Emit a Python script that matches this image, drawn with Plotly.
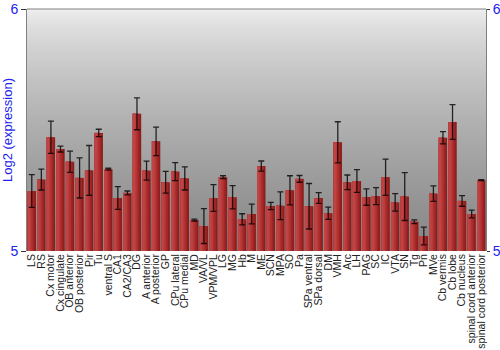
import plotly.graph_objects as go

regions = ["LS", "RS", "Cx motor", "Cx cingulate", "OB anterior", "OB posterior", "Pir", "Tu",
           "ventral S", "CA1", "CA2/CA3", "DG", "A anterior", "A posterior", "GP", "CPu lateral",
           "CPu medial", "MD", "VA/VL", "VPM/VPL", "LG", "MG", "Hb", "M", "ME", "SCN", "MPA", "SO",
           "Pa", "SPa ventral", "SPa dorsal", "DM", "VMH", "Arc", "LH", "PAG", "SC", "IC", "VTA",
           "SN", "Tg", "Pn", "MVe", "Cb vermis", "Cb lobe", "Cb nucleus", "spinal cord anterior",
           "spinal cord posterior"]

expression = [5.248, 5.295, 5.470, 5.421, 5.369, 5.302, 5.333, 5.488,
              5.338, 5.219, 5.240, 5.567, 5.332, 5.453, 5.284, 5.328,
              5.300, 5.128, 5.103, 5.219, 5.305, 5.222, 5.131, 5.153, 5.351, 5.186, 5.187, 5.251,
              5.298, 5.185, 5.219, 5.156, 5.449, 5.284, 5.289, 5.223, 5.227, 5.305, 5.201,
              5.225, 5.121, 5.062, 5.237, 5.468, 5.533, 5.207, 5.153,
              5.293]

errors = [0.068, 0.043, 0.067, 0.012, 0.044, 0.083, 0.103, 0.015,
          0.004, 0.047, 0.008, 0.066, 0.039, 0.059, 0.045, 0.037,
          0.048, 0.004, 0.072, 0.055, 0.006, 0.048, 0.023, 0.041, 0.021, 0.015, 0.057, 0.060,
          0.014, 0.094, 0.022, 0.025, 0.085, 0.030, 0.047, 0.034, 0.035, 0.075, 0.036,
          0.099, 0.008, 0.037, 0.032, 0.025, 0.072, 0.022, 0.016,
          0.002]

y_ticks = [5, 6]

fig = go.Figure()

# bar gradient: layered bars, lighter on the left side
full_w = 0.88
layers = [(1.00, "#8e1e1e"), (0.80, "#a02626"), (0.62, "#ae2f2f"), (0.45, "#b83a3a"), (0.28, "#c04444")]
for frac, col in layers:
    fig.add_trace(go.Bar(
        x=regions, y=[v - 5 for v in expression], base=5,
        width=full_w * frac, offset=-full_w / 2,
        marker=dict(color=col, line=dict(width=0)),
        hoverinfo="skip", showlegend=False,
    ))

fig.add_trace(go.Scatter(
    x=regions, y=expression, mode="markers",
    marker=dict(size=1, color="rgba(0,0,0,0)"),
    error_y=dict(type="data", array=errors, visible=True, color="rgba(0,0,0,0.8)",
                 thickness=1.3, width=3),
    showlegend=False,
))

fig.add_trace(go.Scatter(x=[regions[0]], y=[5], yaxis="y2", mode="markers",
                         marker=dict(size=1, color="rgba(0,0,0,0)"), showlegend=False,
                         hoverinfo="skip"))

# background gradient bands
n = 121
shapes = []
for i in range(n):
    t = (i + 0.5) / n
    g = int(round(240 - 108 * (t ** 0.7)))
    shapes.append(dict(type="rect", xref="paper", yref="paper", x0=0, x1=1,
                       y0=1 - (i + 1) / n, y1=1 - i / n, fillcolor=f"rgb({g},{g},{g})",
                       line=dict(width=0), layer="below"))
shapes.append(dict(type="line", xref="paper", yref="paper", x0=0, x1=1, y0=1, y1=1,
                   line=dict(color="#808080", width=1)))

tickfont = dict(family="Liberation Sans, Arial, sans-serif", size=14, color="#2222ee")

fig.update_layout(
    width=500, height=350,
    margin=dict(l=27, r=14, t=9, b=99),
    paper_bgcolor="white", plot_bgcolor="rgba(0,0,0,0)",
    barmode="overlay",
    shapes=shapes,
    xaxis=dict(type="category", range=[-0.5, len(regions) - 0.5], tickangle=-90,
               tickmode="array", tickvals=regions, ticktext=regions, automargin=False,
               tickfont=dict(family="Liberation Sans, Arial, sans-serif", size=10.5, color="#222222"),
               showgrid=False, showline=False, ticks="", zeroline=False),
    yaxis=dict(range=[5, 6], tickvals=y_ticks, ticktext=[str(v) for v in y_ticks],
               tickfont=tickfont, ticks="outside", ticklen=5, tickcolor="#333333",
               showgrid=False, zeroline=False, showline=True, linecolor="#808080",
               automargin=False,
               title=dict(text="Log2 (expression)", standoff=6,
                          font=dict(family="Liberation Sans, Arial, sans-serif", size=13, color="#2222ee"))),
    yaxis2=dict(range=[5, 6], overlaying="y", side="right", tickvals=y_ticks,
                ticktext=[str(v) for v in y_ticks], tickfont=tickfont, ticks="outside",
                ticklen=3, tickcolor="#333333", showgrid=False, zeroline=False,
                showline=True, linecolor="#808080", automargin=False),
)

fig.write_html("out.html")
